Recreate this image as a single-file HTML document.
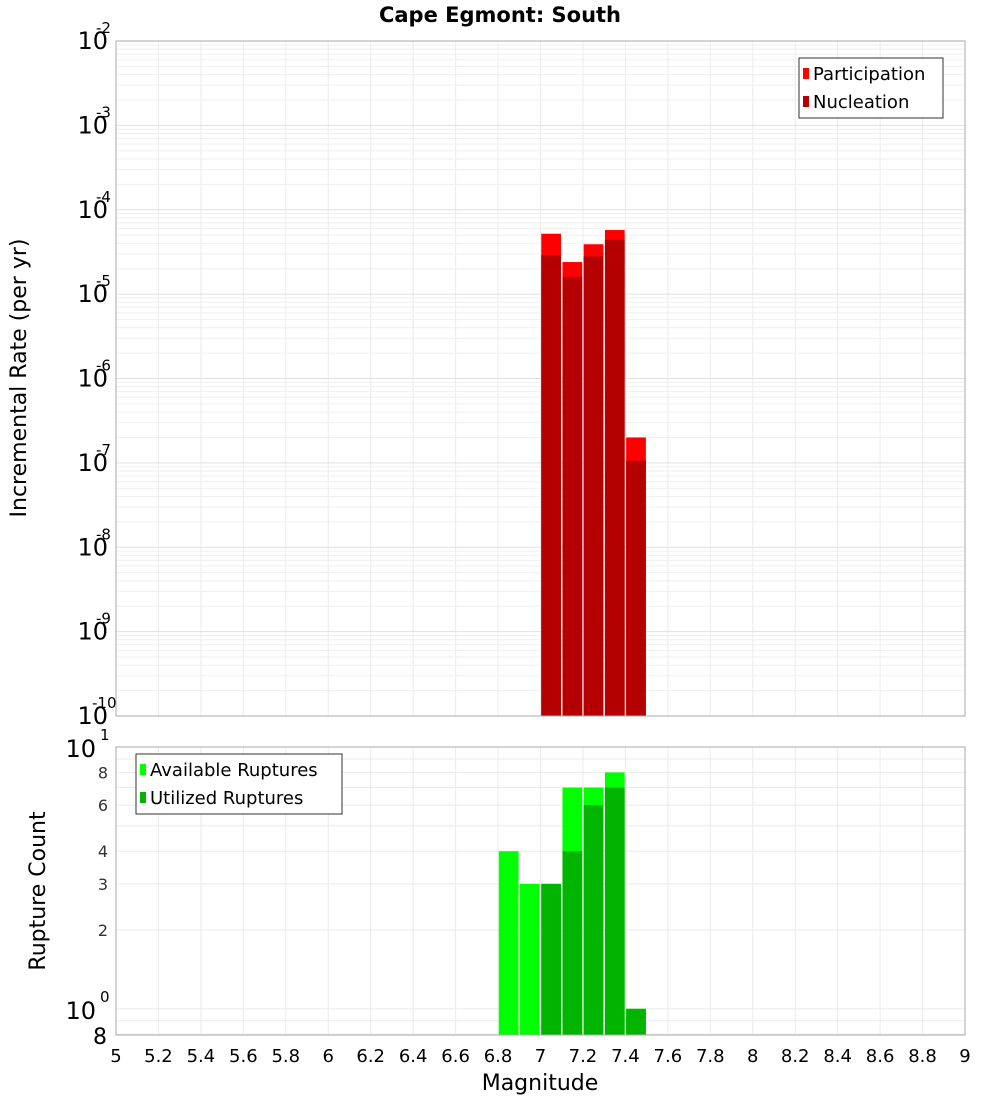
<!DOCTYPE html>
<html><head><meta charset="utf-8"><style>
body{margin:0;background:#fff;}
svg{display:block;font-family:"DejaVu Sans","Liberation Sans",sans-serif;}
</style></head><body>
<svg id="c" width="1000" height="1100" xmlns="http://www.w3.org/2000/svg"></svg>
<script>
const mags = [6.85, 6.95, 7.05, 7.15, 7.25, 7.35, 7.45];
const participation = [0, 0, 5.2e-5, 2.4e-5, 3.9e-5, 5.75e-5, 2.0e-7];
const nucleation = [0, 0, 2.9e-5, 1.6e-5, 2.8e-5, 4.4e-5, 1.06e-7];
const available = [4, 3, 3, 7, 7, 8, 1];
const utilized = [0, 0, 3, 4, 6, 7, 1];
const xTicks = [5,5.2,5.4,5.6,5.8,6,6.2,6.4,6.6,6.8,7,7.2,7.4,7.6,7.8,8,8.2,8.4,8.6,8.8,9];
const topExps = [-2,-3,-4,-5,-6,-7,-8,-9,-10];
const botTicks = [8,6,4,3,2];

const NS="http://www.w3.org/2000/svg";
const svg=document.getElementById('c');
function mk(t,a,p){const e=document.createElementNS(NS,t);for(const k in a)e.setAttribute(k,a[k]);(p||svg).appendChild(e);return e;}
const L=116,R=965,T1=41,B1=716,T2=747,B2=1035;
const X=v=>L+(v-5)/4*(R-L);
const Y1=v=>T1+(-2-Math.log10(v))/8*(B1-T1);
const Y2=v=>T2+(1-Math.log10(v))/1.1*(B2-T2);

// title
let t=mk('text',{x:500,y:22,'text-anchor':'middle','font-size':21,'font-weight':'bold',fill:'#000'});t.textContent='Cape Egmont: South';



// grids
function vgrid(T,B){xTicks.forEach(v=>{const g=mk('line',{x1:X(v),x2:X(v),y1:T,y2:B,stroke:'#ebebeb','stroke-width':1});});}
vgrid(T1,B1);vgrid(T2,B2);
for(let e=-10;e<-2;e++){for(let m=1;m<10;m++){const v=m*Math.pow(10,e);const y=Y1(v);const g=mk('line',{x1:L,x2:R,y1:y,y2:y,stroke:m==1?'#e0e0e0':'#efefef','stroke-width':1});}}
[0.8,0.9,1,2,3,4,5,6,7,8,9,10].forEach(v=>{const y=Y2(v);const g=mk('line',{x1:L,x2:R,y1:y,y2:y,stroke:'#ebebeb','stroke-width':1});});

// bars top
const bw=(X(5.1)-X(5))-1.5;
mags.forEach((m,i)=>{
 if(participation[i]>0){const r=mk('rect',{x:X(m)-bw/2,y:Y1(participation[i]),width:bw,height:B1-Y1(participation[i]),fill:'#ff0000'});}
 if(nucleation[i]>0){const r=mk('rect',{x:X(m)-bw/2,y:Y1(nucleation[i]),width:bw,height:B1-Y1(nucleation[i]),fill:'#b40000'});}
 if(available[i]>0){const r=mk('rect',{x:X(m)-bw/2,y:Y2(available[i]),width:bw,height:B2-Y2(available[i]),fill:'#00ff00'});}
 if(utilized[i]>0){const r=mk('rect',{x:X(m)-bw/2,y:Y2(utilized[i]),width:bw,height:B2-Y2(utilized[i]),fill:'#00b400'});}
});

// frames
let f=mk('rect',{x:L,y:T1,width:R-L,height:B1-T1,fill:'none',stroke:'#aaa'});
f=mk('rect',{x:L,y:T2,width:R-L,height:B2-T2,fill:'none',stroke:'#aaa'});

// top y labels
topExps.forEach(e=>{const y=Y1(Math.pow(10,e));
 const tx=mk('text',{x:108,y:y+8,'text-anchor':'end','font-size':24,fill:'#000'});
 
 tx.textContent='10';
 const s=mk('text',{x:(e<=-10?92:96),y:y-8,'font-size':15,fill:'#000'});s.textContent=String(e);
 
});
// bottom y labels
[[10,'1'],[1,'0']].forEach(([v,ex])=>{const y=Y2(v);
 const tx=mk('text',{x:96,y:y+10,'text-anchor':'end','font-size':24,fill:'#000'});tx.textContent='10';
 
 const s=mk('text',{x:100,y:y-7,'font-size':15,fill:'#000'});s.textContent=ex;
 });
botTicks.forEach(v=>{const tx=mk('text',{x:108,y:Y2(v)+6,'text-anchor':'end','font-size':16,fill:'#333'});tx.textContent=String(v);
 });
let e8=mk('text',{x:107,y:B2+9,'text-anchor':'end','font-size':22,fill:'#000'});e8.textContent='8';


// x labels
xTicks.forEach(v=>{const tx=mk('text',{x:X(v),y:1062,'text-anchor':'middle','font-size':18,fill:'#000'});tx.textContent=String(v);
 });
let xt=mk('text',{x:540,y:1090,'text-anchor':'middle','font-size':22,fill:'#000'});xt.textContent='Magnitude';

let y1t=mk('text',{x:0,y:0,'text-anchor':'middle','font-size':22,fill:'#000',transform:'translate(26,378) rotate(-90)'});y1t.textContent='Incremental Rate (per yr)';

let y2t=mk('text',{x:0,y:0,'text-anchor':'middle','font-size':22,fill:'#000',transform:'translate(45,891) rotate(-90)'});y2t.textContent='Rupture Count';


// legends
function legend(x,y,w,h,items,nm){const g=mk('g',{});
 mk('rect',{x:x,y:y,width:w,height:h,fill:'#fff',stroke:'#333'},g);
 items.forEach(([c,lab],i)=>{mk('rect',{x:x+4,y:y+10+i*28,width:6,height:11,fill:c},g);
 const tx=mk('text',{x:x+14,y:y+22+i*28,'font-size':18,fill:'#000'},g);tx.textContent=lab;
 });}
legend(799,58,144,60,[['#ff0000','Participation'],['#b40000','Nucleation']],'top-legend');
legend(136,754,206,60,[['#00ff00','Available Ruptures'],['#00b400','Utilized Ruptures']],'bottom-legend');
</script>
</body></html>
